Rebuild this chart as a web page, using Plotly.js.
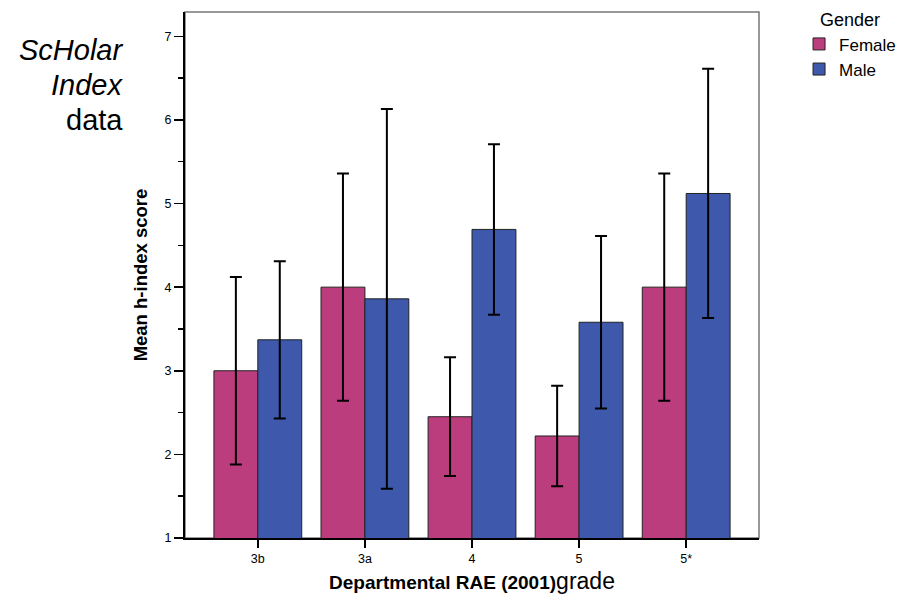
<!DOCTYPE html>
<html>
<head>
<meta charset="utf-8">
<script src="https://cdn.plot.ly/plotly-3.0.1.min.js"></script>
<style>html,body{margin:0;padding:0;background:#fff;}#chart{width:908px;height:598px;}</style>
</head>
<body>
<div id="chart"></div>
<script>
const categories = ["3b", "3a", "4", "5", "5*"];
const femaleMean = [3.00, 4.00, 2.45, 2.22, 4.00];
const femaleErr  = [1.12, 1.36, 0.71, 0.60, 1.36];
const maleMean   = [3.37, 3.86, 4.69, 3.58, 5.12];
const maleErr    = [0.94, 2.27, 1.02, 1.03, 1.49];
const sideLines  = ["<i>ScHolar</i>", "<i>Index</i>", "data"];

const font = "Liberation Sans, Arial, sans-serif";
const errStyle = {type: "data", visible: true, color: "#000", thickness: 2, width: 6};

const traces = [
  {type: "bar", name: "Female", x: categories, y: femaleMean,
   error_y: Object.assign({array: femaleErr}, errStyle),
   marker: {color: "#BC3D7D", line: {color: "#222", width: 1}}},
  {type: "bar", name: "Male", x: categories, y: maleMean,
   error_y: Object.assign({array: maleErr}, errStyle),
   marker: {color: "#3E58AB", line: {color: "#222", width: 1}}}
];

const sideY = [0.928, 0.861, 0.795];
const annotations = sideLines.map((t, i) => ({
  xref: "paper", yref: "paper", x: -0.104, y: sideY[i], xanchor: "right", yanchor: "middle",
  showarrow: false, font: {size: 29, family: font}, text: t
}));

const layout = {
  width: 908, height: 598,
  margin: {l: 185, r: 149, t: 12, b: 60, autoexpand: false},
  paper_bgcolor: "#fff", plot_bgcolor: "#fff",
  font: {family: font, color: "#000", size: 12},
  barmode: "group", bargap: 0.18, bargroupgap: 0,
  showlegend: true,
  legend: {xref: "container", yref: "container", x: 0.88, y: 0.995, xanchor: "left", yanchor: "top",
    font: {size: 17, family: font}, tracegroupgap: 0, itemwidth: 30,
    title: {text: "Gender", side: "top center", font: {size: 18, family: font}}},
  xaxis: {type: "category", range: [-0.68, 4.68], showgrid: false, zeroline: false,
    showline: true, linecolor: "#000", linewidth: 2,
    ticks: "outside", ticklen: 8, tickwidth: 2, tickcolor: "#000",
    tickfont: {size: 12.5},
    title: {text: "<b>Departmental RAE (2001)</b><span style='font-size:23px'>grade</span>",
      font: {size: 19}, standoff: 11}},
  yaxis: {range: [1, 7.29], dtick: 1, tick0: 0, showgrid: false, zeroline: false,
    showline: true, linecolor: "#000", linewidth: 2,
    ticks: "outside", ticklen: 9, tickwidth: 1.5, tickcolor: "#000",
    tickfont: {size: 12.5},
    minor: {dtick: 0.5, ticks: "outside", ticklen: 5, tickwidth: 1.5, tickcolor: "#000", showgrid: false},
    title: {text: "<b>Mean h-index score</b>", font: {size: 18.5}, standoff: 12}},
  shapes: [{type: "rect", xref: "paper", yref: "paper", x0: 0, x1: 1, y0: 0, y1: 1,
    line: {color: "#777", width: 1.5}, layer: "below"}],
  annotations: annotations
};

Plotly.newPlot("chart", traces, layout, {displayModeBar: false, staticPlot: true});
</script>
</body>
</html>
